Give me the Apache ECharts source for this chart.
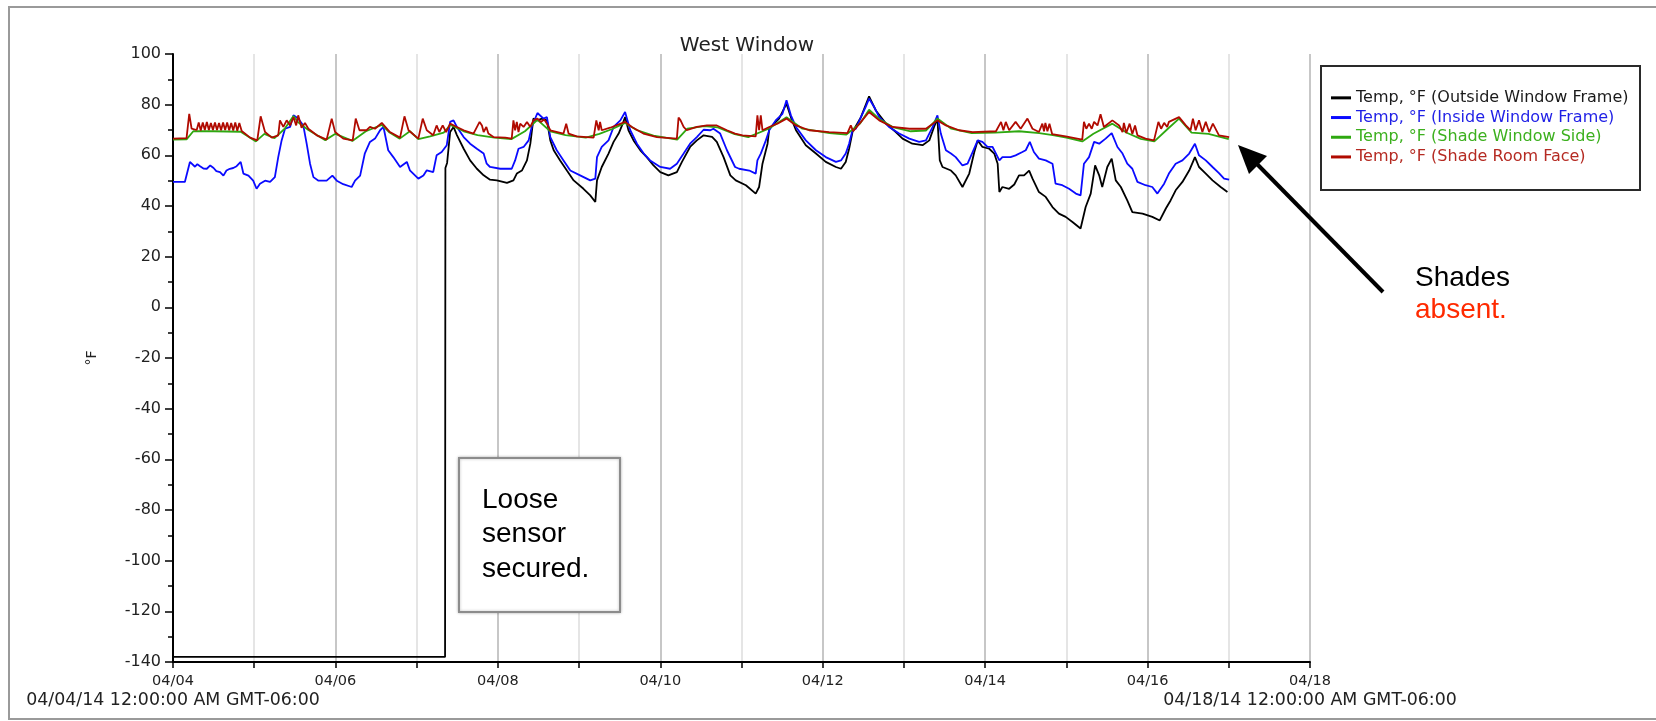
<!DOCTYPE html>
<html>
<head>
<meta charset="utf-8">
<script src="https://cdn.jsdelivr.net/npm/echarts@6/dist/echarts.min.js"></script>
<style>
  html, body { margin: 0; padding: 0; background: #fff; }
  #chart { width: 1656px; height: 721px; }
</style>
</head>
<body>
<div id="chart"></div>
<script>
var myChart = echarts.init(document.getElementById('chart'));

// hours since 04/04/14 00:00, temperature in °F
var outsideFrame = [
    [0, -138], [80.4, -138], [80.5, 55], [81.0, 57], [81.9, 69.2], [82.9, 71.2], [83.9, 68], [85.9, 62.6],
    [87.8, 58], [89.8, 54.7], [91.8, 52.1], [93.7, 50.4], [95.7, 50.1], [98.7, 49.1], [100.6, 50.1],
    [101.6, 52.8], [103.1, 54], [104.6, 58], [105.6, 64.6], [106.5, 74.5], [107.7, 73.8], [109, 74.5],
    [110.5, 73.8], [111.5, 65.9], [112.5, 62], [114.4, 58], [116.4, 54], [118.4, 50.1], [121.3, 46.8],
    [123.3, 44.2], [124.8, 41.6], [125.3, 50.1], [126.7, 55.4], [128.7, 60.7], [130.2, 65.3], [131.7, 68.6],
    [132.7, 71.8], [133.6, 75.1], [134.6, 69.9], [136.1, 65.9], [138.1, 62], [140, 59.3], [142, 56],
    [144, 53.4], [146.4, 52.1], [148.9, 53.4], [150.4, 57.4], [152.8, 63.3], [154.8, 65.9], [156.8, 67.9],
    [159.3, 67.3], [160.7, 65.3], [162.7, 59.3], [164.7, 52.1], [166.3, 50.1], [169.3, 48.2], [172.2, 44.9],
    [173.2, 47.5], [174.2, 56.7], [175.7, 64.6], [176.2, 70.5], [179.1, 74.5], [181.3, 80.4], [182.6, 75],
    [184.1, 69.9], [187, 64], [190, 60.7], [192.9, 57.4], [195.9, 55.4], [197.4, 54.7], [198.8, 57.4],
    [199.8, 62.6], [200.8, 69.2], [203.3, 75.1], [205.7, 83.3], [207.7, 77.7], [210.7, 72.5], [213.6, 69.2],
    [215.6, 66.6], [218.5, 64.6], [221.5, 64], [223.5, 65.9], [224.9, 71.2], [225.9, 74.5], [226.6, 58],
    [227.4, 55.4], [229.9, 54], [231.3, 52.1], [233.3, 47.5], [235.3, 52.8], [236.8, 61.3], [237.8, 65.9],
    [239.2, 63.3], [241.2, 62.6], [242.7, 60.7], [243.7, 56.7], [244.2, 45.5], [245.1, 47.5], [247.1, 46.8],
    [248.6, 48.5], [250, 52.1], [251.5, 52.1], [253, 54], [254, 50.8], [255.9, 45.5], [257.9, 43.6],
    [259.9, 39.6], [261.8, 37], [263.8, 35.7], [265.8, 33.7], [268.2, 31.1], [269.7, 39.6], [271.2, 44.9],
    [272.5, 56], [273.7, 52.1], [274.6, 47.5], [276.1, 55.4], [277.4, 58.7], [278.6, 50.1], [280.1, 47.5],
    [282, 42.2], [283.5, 37.6], [286.5, 37], [289.4, 35.7], [291.6, 34.3], [293.4, 39], [294.8, 42.2],
    [296.3, 46.2], [298.3, 49.5], [300.3, 54], [302, 59.3], [303.2, 55.4], [305.2, 52.8], [307.2, 50.1],
    [309.6, 47.5], [311.6, 45.5]
];

var insideFrame = [
    [0, 49.5], [3.5, 49.5], [5, 57.4], [5.5, 57], [6.5, 55.5], [7.2, 56.5], [8, 55.7], [9, 54.8], [10, 54.7],
    [11, 56], [12, 55], [12.8, 53.8], [13.9, 53.4], [14.9, 52], [15.8, 54], [16.8, 54.7], [17.8, 55],
    [18.8, 55.7], [20, 57.4], [20.8, 52.8], [22.3, 52], [23.7, 50], [24.7, 46.8], [25.7, 48.8], [27.2, 50],
    [28.7, 49.5], [30.1, 51.4], [31.1, 59.3], [32.1, 65.9], [33.1, 70.5], [34.6, 71.2], [35.6, 75.8],
    [37, 74.5], [38.5, 71.8], [39.5, 64.6], [40.5, 56.7], [41.5, 51.4], [43, 50], [45.4, 50], [47.1, 52],
    [48.4, 50], [50.3, 48.6], [52.8, 47.5], [53.8, 50], [55.3, 52], [56.7, 60.8], [58.2, 65.3], [59.7, 66.6],
    [61.2, 69.9], [62.2, 71.2], [63.6, 62], [65.1, 59.3], [67.1, 55.4], [69.1, 57.4], [70, 54.1], [72.5, 50.8],
    [74, 52], [75, 54.1], [76.9, 53.4], [77.9, 60], [79.4, 61.3], [80.9, 64], [81.9, 73.2], [82.9, 73.8],
    [83.9, 71.2], [85.9, 67.2], [87.8, 64.6], [89.8, 62.6], [91.8, 60.7], [92.7, 56.7], [93.7, 55.4],
    [96.7, 54.7], [100.1, 54.7], [101.1, 58], [102.1, 62.6], [103.6, 63.3], [105.1, 65.9], [106, 71.2],
    [107.7, 76.7], [109.5, 74.5], [110.5, 75.1], [111.5, 67.2], [113.4, 62], [115.4, 58], [117.4, 54],
    [120.3, 52.1], [123.3, 50.1], [124.8, 50.8], [125.3, 59.3], [126.7, 63.3], [128.7, 65.9], [130.2, 71.2],
    [132.2, 73.8], [133.6, 77.1], [135.1, 70], [137.1, 64.6], [139.1, 60.7], [141, 58], [144, 55.4],
    [146.9, 54.7], [148.9, 56.7], [150.9, 60.7], [152.8, 64.6], [154.8, 67.2], [156.8, 70.1], [158.8, 69.9],
    [159.7, 70.5], [161.7, 68.6], [163.7, 62], [166.1, 55.4], [167.3, 54.7], [170.3, 54], [172.2, 52.8],
    [172.7, 58], [173.7, 60.7], [175.2, 65.9], [176.2, 69.9], [178.1, 73.8], [180.1, 76.4], [181.3, 81.7],
    [182.6, 75.8], [184.1, 71.2], [187, 65.9], [190, 62], [192.9, 59.3], [195.9, 57.4], [197.4, 58],
    [198.8, 60.7], [199.8, 64.6], [200.8, 69.9], [201.8, 70.5], [203.3, 75.1], [204.7, 79.1], [205.7, 82.4],
    [207.2, 79.1], [208.7, 75.1], [211.6, 71.2], [214.6, 68.6], [217.6, 66.6], [220.5, 65.3], [222.5, 65.9],
    [224.5, 71.2], [225.9, 75.8], [226.9, 68.6], [228.4, 62], [229.9, 60.7], [231.3, 59.3], [233.3, 56],
    [234.8, 56.7], [236.3, 61.3], [237.8, 65.9], [239.2, 65.3], [240.7, 63.3], [242.2, 63.3], [243.2, 60.7],
    [244.2, 58], [245.1, 59.3], [247.5, 59.3], [249, 60], [251, 61.3], [252, 62], [253.2, 65.3], [254.4, 61.3],
    [255.9, 58.7], [257.9, 58], [259.9, 56.7], [260.8, 48.8], [262.8, 48.2], [264.8, 46.8], [266.8, 44.9],
    [268.2, 44.2], [269.2, 56.7], [270.7, 59.3], [272.2, 65.3], [273.7, 64.6], [275.6, 66.6], [277.4, 68.8],
    [279.1, 63.3], [280.6, 60.7], [282, 56.7], [283.5, 54.7], [285, 49.5], [287.4, 48.2], [289.4, 47.5],
    [290.9, 44.9], [292.9, 48.8], [294.3, 52.8], [296.3, 56.7], [298.3, 58], [300.3, 60.7], [302, 64.6],
    [303.2, 60], [305.2, 58], [307.2, 55.4], [309.1, 53], [310.6, 50.8], [312.1, 50.4]
];

var shadeWindowSide = [
    [0, 66.2], [4, 66.3], [6, 69.5], [12, 69.5], [20, 69.3], [24.5, 65.5], [27, 68.5], [30, 66.8], [33, 70.5],
    [35.6, 75.5], [37, 73], [40, 70], [45, 66], [48, 68.5], [53, 65.7], [57, 69.5], [61.7, 72], [64, 69],
    [67, 66.6], [70, 69.5], [72.5, 66.4], [76, 67.5], [80, 69], [82, 72], [85.9, 69.5], [90, 68], [95, 67],
    [100, 66.4], [104, 69.5], [107.7, 74], [111.5, 69.5], [116, 68], [122, 67], [126, 68.5], [130, 70.5],
    [133.6, 72.8], [137, 70], [142, 67.8], [149, 66.2], [152, 70.5], [157, 71.5], [161, 71], [166, 68.4],
    [170, 67.2], [176, 70.5], [181.3, 75], [186, 70.5], [194, 68.8], [199, 68.2], [203, 72.5], [205.7, 78],
    [209, 74], [213, 71], [218, 69.5], [222.5, 69.8], [225.9, 74.5], [230, 70.5], [236, 68.8], [243, 69],
    [250, 69.5], [256, 68.8], [260, 68], [264, 67], [268.7, 65.5], [272, 68.5], [277.6, 72.5], [282, 68.8],
    [286, 66.5], [290, 65.5], [294, 70.5], [297.3, 74.5], [301, 69], [306, 68.5], [312, 66.4]
];

var shadeRoomFace = [
    [0, 66.6], [4, 66.8], [4.8, 76.4], [5.5, 70.5], [7, 70], [7.6, 73], [8.2, 69.8], [8.8, 73], [9.4, 70],
    [10, 73.2], [10.6, 70], [11.2, 72.8], [11.8, 70], [12.4, 73], [13, 70], [13.6, 72.8], [14.2, 69.9],
    [14.8, 73], [15.4, 70], [16, 73], [16.6, 69.9], [17.2, 72.8], [17.8, 69.8], [18.4, 73], [19, 69.7],
    [19.6, 72.8], [20.3, 69.6], [22.8, 67], [24.9, 65.9], [25.9, 75.4], [27.2, 69.2], [29.2, 67], [31.1, 67.9],
    [31.6, 73.8], [32.6, 71.2], [33.6, 73.8], [34.6, 71.8], [35.6, 75], [36.4, 71.8], [37, 75.8], [38, 70.9],
    [39, 72.8], [40, 70.5], [42.5, 67.9], [45.4, 66.2], [46.9, 74.5], [47.9, 69.2], [50.3, 66.6], [53.1, 65.9],
    [54, 74.5], [55.1, 69.9], [57.2, 69.9], [58.2, 71.2], [59.7, 70.5], [61.7, 72.8], [64.1, 69.2], [67.1, 67],
    [68.4, 75.4], [69.6, 69.9], [72.5, 66.6], [73.8, 74.5], [75, 69.9], [76.9, 67.9], [77.9, 71.8], [78.7, 69.2],
    [79.7, 71.8], [80.7, 69.2], [81.9, 72.5], [83.9, 71.2], [85.9, 69.9], [88.8, 68.6], [90.6, 73.2],
    [91.3, 71.8], [91.8, 69.2], [92.6, 71.2], [93.2, 68.6], [94.7, 67.2], [98.2, 67], [100.1, 66.6],
    [100.6, 73.8], [101.1, 69.9], [101.6, 73.2], [102.1, 69.2], [102.6, 72.5], [103.6, 71.2], [104.6, 73.2],
    [105.6, 71.2], [106.5, 73.8], [107.7, 74.5], [108.7, 73.2], [109.7, 74.1], [110.5, 72.5], [111.5, 69.9],
    [115.4, 68.6], [116.2, 72.5], [116.9, 68.6], [119.3, 67.5], [124.3, 67], [125.1, 73.8], [125.8, 69.9],
    [126.2, 73.2], [126.7, 69.9], [129.2, 70.9], [133.6, 73.2], [135.6, 71.2], [139, 68.6], [143, 67.2],
    [148.9, 66.6], [149.4, 74.9], [150, 73.8], [150.9, 71.2], [151.8, 69.9], [154.8, 71.2], [157.8, 71.8],
    [160.7, 71.8], [163.7, 69.9], [166.1, 68.6], [168.3, 67.9], [172.2, 67.5], [172.7, 75.8], [173.2, 69.9],
    [173.7, 75.8], [174.2, 69.9], [176.2, 71.2], [178.6, 72.5], [181.3, 74.5], [184.1, 71.8], [188, 69.9],
    [193.9, 69.2], [199.3, 68.8], [200.3, 71.8], [201, 69.5], [203.3, 73.2], [205.7, 77.1], [208.7, 73.8],
    [212.6, 71.2], [217.6, 70.5], [222.5, 70.5], [225.9, 73.8], [228.4, 71.8], [232.3, 69.9], [236.3, 69.2],
    [243.2, 69.5], [244.7, 73.2], [245.4, 69.9], [246.1, 73.2], [247.1, 69.9], [249, 73.2], [250.5, 70.5],
    [252.5, 74.5], [254, 70.5], [255.9, 69.2], [256.9, 72.5], [257.4, 69.5], [257.8, 72.8], [258.4, 69.5],
    [259, 72.5], [259.8, 68.4], [263.8, 67.5], [268.7, 66.2], [269.2, 73.2], [269.9, 70.5], [270.7, 72.5],
    [271.5, 70.5], [272.2, 73.2], [273.2, 71.8], [274.1, 76.2], [275.1, 71.2], [277.6, 73.8], [279.6, 71.8],
    [280.6, 69.2], [281, 72.8], [281.7, 68.8], [282.7, 72.5], [283.5, 68.4], [284.3, 71.8], [285, 67.9],
    [287.4, 66.6], [289.9, 65.9], [291.2, 73.2], [292, 70.5], [292.9, 72.8], [293.8, 71.2], [294.3, 73.2],
    [297.3, 75.1], [299.3, 71.8], [300.7, 69.9], [301.4, 74.5], [302.2, 69.9], [303.2, 73.8], [304.2, 69.2],
    [305.2, 73.2], [306.2, 69.2], [307.3, 72.5], [309.1, 67.9], [312.1, 67.2]
];

var seriesNames = [
    'Temp, °F (Outside Window Frame)',
    'Temp, °F (Inside Window Frame)',
    'Temp, °F (Shade Window Side)',
    'Temp, °F (Shade Room Face)'
];
var lineColors = ['#000000', '#0a0aff', '#2ea810', '#b00a00'];
var legendTextColors = ['#1a1a1a', '#1f1fe6', '#3cb01e', '#b52a22'];
var dayLabels = ['04/04', '04/05', '04/06', '04/07', '04/08', '04/09', '04/10', '04/11',
    '04/12', '04/13', '04/14', '04/15', '04/16', '04/17', '04/18'];
var edgeLabels = { 0: '04/04/14 12:00:00 AM GMT-06:00', 14: '04/18/14 12:00:00 AM GMT-06:00' };

var allData = [outsideFrame, insideFrame, shadeWindowSide, shadeRoomFace];
var tickFont = 'DejaVu Sans';
var noteFont = '28px "Liberation Sans", Arial, sans-serif';

option = {
    animation: false,
    backgroundColor: '#fff',
    title: {
        text: 'West Window',
        left: 742,
        top: 31,
        textAlign: 'center',
        textStyle: { fontFamily: tickFont, fontSize: 20, fontWeight: 'normal', color: '#222' }
    },
    legend: {
        orient: 'vertical',
        left: 1331,
        top: 88,
        padding: 0,
        itemGap: 0,
        itemWidth: 20,
        itemHeight: 3,
        icon: 'rect',
        textStyle: { fontFamily: tickFont, fontSize: 16, lineHeight: 19.7 },
        data: seriesNames.map(function (n, i) {
            return { name: n, textStyle: { color: legendTextColors[i] } };
        })
    },
    grid: { left: 173, right: 346, top: 54, bottom: 59 },
    xAxis: {
        type: 'value',
        min: 0,
        max: 336,
        interval: 24,
        axisLine: { onZero: false, lineStyle: { color: '#000', width: 2 } },
        axisTick: { show: true, length: 6, lineStyle: { color: '#000', width: 1.5 } },
        axisLabel: {
            margin: 9,
            color: '#222',
            formatter: function (v) {
                var d = Math.round(v / 24);
                if (d % 2 === 1) return '';
                var s = '{d|' + dayLabels[d] + '}';
                return edgeLabels[d] ? s + '\n{e|' + edgeLabels[d] + '}' : s;
            },
            rich: {
                d: { fontFamily: tickFont, fontSize: 14.5, lineHeight: 20, color: '#222' },
                e: { fontFamily: tickFont, fontSize: 17.4, lineHeight: 18, color: '#222' }
            }
        },
        splitLine: { show: true, lineStyle: { color: ['#b4b4b4', '#dcdcdc'], width: 1.5 } }
    },
    yAxis: {
        type: 'value',
        min: -140,
        max: 100,
        interval: 20,
        name: '°F',
        nameLocation: 'middle',
        nameGap: 74,
        nameRotate: 90,
        nameTextStyle: { fontFamily: tickFont, fontSize: 14, color: '#222' },
        axisLine: { show: true, lineStyle: { color: '#000', width: 2 } },
        axisTick: { show: true, length: 8, lineStyle: { color: '#000', width: 1.5 } },
        minorTick: { show: true, splitNumber: 2, length: 5, lineStyle: { color: '#000', width: 1.5 } },
        axisLabel: { margin: 12, fontFamily: tickFont, fontSize: 16, color: '#222' },
        splitLine: { show: false }
    },
    graphic: [
        // outer frame of the screenshot
        { type: 'rect', shape: { x: 9, y: 7, width: 1660, height: 712 }, style: { fill: 'none', stroke: '#9a9a9a', lineWidth: 2 }, z: 100 },
        // legend box
        { type: 'rect', shape: { x: 1321, y: 66, width: 319, height: 124 }, style: { fill: 'none', stroke: '#2a2a2a', lineWidth: 2 }, z: 100 },
        // annotation box
        { type: 'rect', shape: { x: 459, y: 458, width: 161, height: 154 }, style: { fill: '#fff', stroke: '#8c8c8c', lineWidth: 2, shadowBlur: 3, shadowColor: 'rgba(0,0,0,0.25)' }, z: 100 },
        { type: 'text', x: 482, y: 500, z: 101, style: { text: 'Loose', font: noteFont, fill: '#000', verticalAlign: 'middle' } },
        { type: 'text', x: 482, y: 534, z: 101, style: { text: 'sensor', font: noteFont, fill: '#000', verticalAlign: 'middle' } },
        { type: 'text', x: 482, y: 569, z: 101, style: { text: 'secured.', font: noteFont, fill: '#000', verticalAlign: 'middle' } },
        // arrow
        { type: 'line', shape: { x1: 1383, y1: 292, x2: 1256, y2: 163 }, style: { stroke: '#000', lineWidth: 4 }, z: 100 },
        { type: 'polygon', shape: { points: [[1238, 145], [1267, 156], [1249, 174]] }, style: { fill: '#000' }, z: 100 },
        { type: 'text', x: 1415, y: 278, z: 101, style: { text: 'Shades', font: noteFont, fill: '#000', verticalAlign: 'middle' } },
        { type: 'text', x: 1415, y: 310, z: 101, style: { text: 'absent.', font: noteFont, fill: '#ff2a00', verticalAlign: 'middle' } }
    ],
    series: allData.map(function (d, i) {
        return {
            name: seriesNames[i],
            type: 'line',
            data: d,
            showSymbol: false,
            symbol: 'none',
            lineStyle: { color: lineColors[i], width: 1.8 },
            itemStyle: { color: lineColors[i] },
            z: 2 + i
        };
    })
};
myChart.setOption(option);
</script>
</body>
</html>
